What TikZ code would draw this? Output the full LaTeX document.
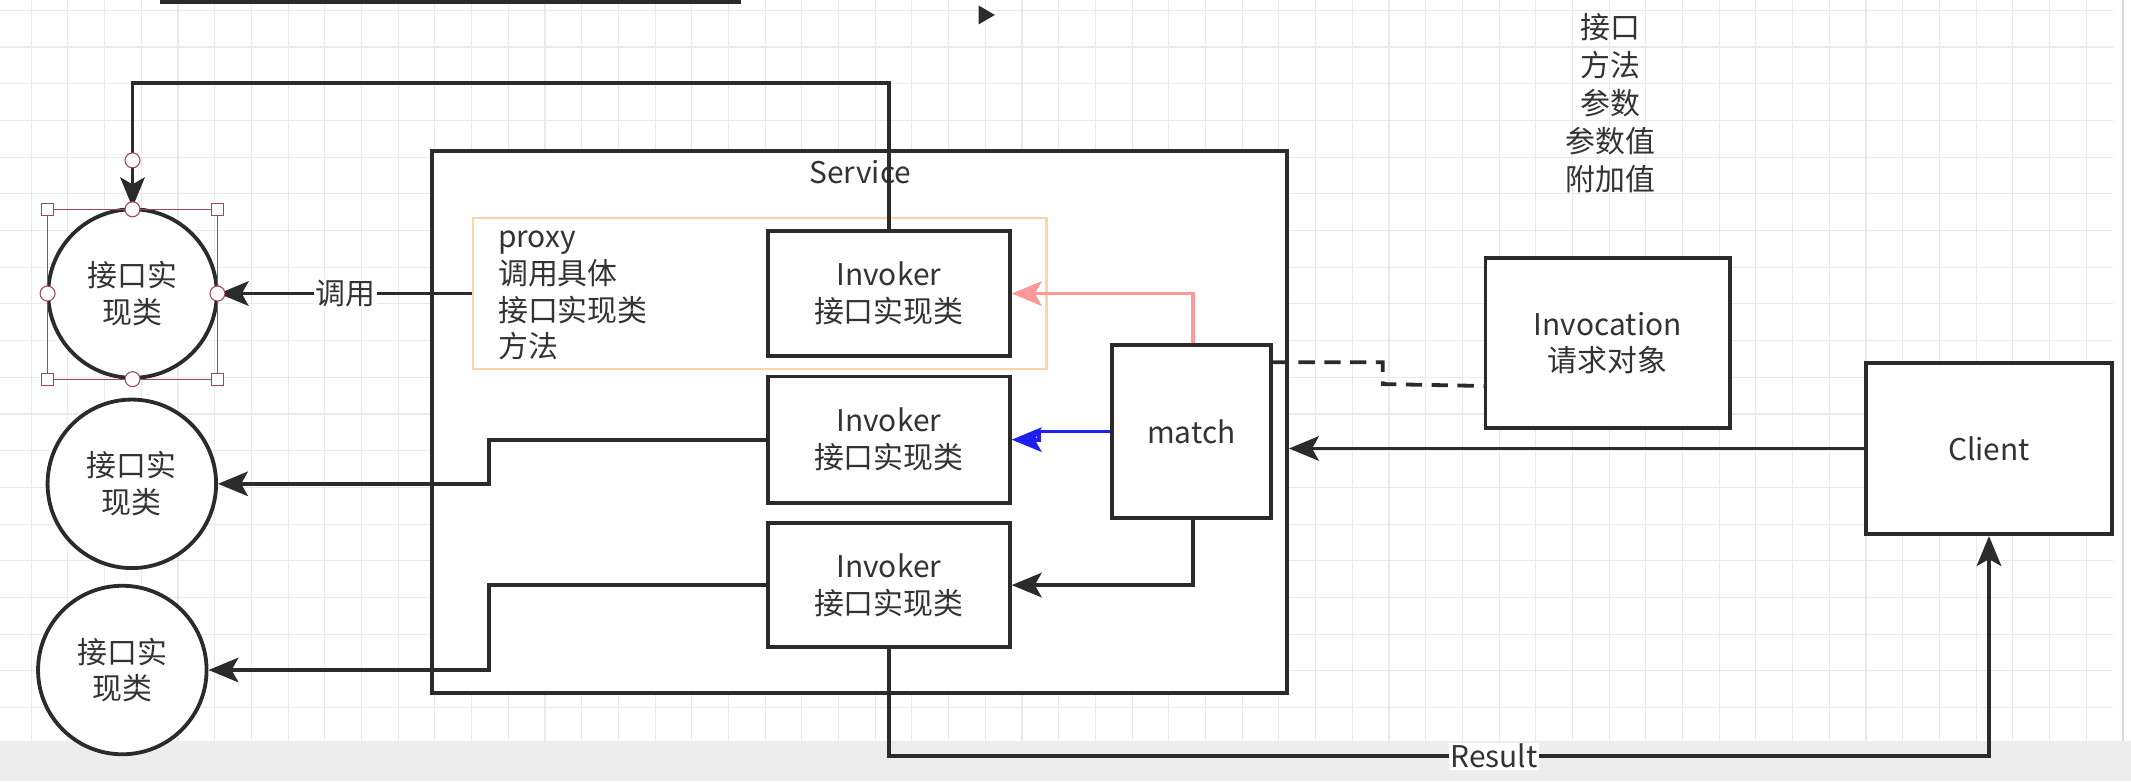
\documentclass[tikz,border=0pt]{standalone}
\usepackage{fontspec}
\setmainfont{Noto Sans CJK SC}
\usetikzlibrary{arrows.meta}
\definecolor{txt}{HTML}{333333}
\definecolor{edge}{HTML}{2B2B2B}
\definecolor{pinkline}{HTML}{FF9999}
\definecolor{blueline}{HTML}{2020EE}
\definecolor{orangebox}{HTML}{FFD2A8}
\definecolor{handle}{HTML}{A04858}
\definecolor{gridc}{HTML}{EAEAEA}
\begin{document}
\begin{tikzpicture}[x=1pt,y=-1pt,
  every node/.style={text=txt,font=\fontsize{22}{27}\selectfont},
  box/.style={draw=edge,line width=2.8pt,fill=white,inner sep=0pt,align=center},
  impl/.style={draw=edge,line width=2.8pt,fill=white,circle,minimum size=124pt,inner sep=0pt,align=center},
  tip/.style={-{Stealth[length=22pt,width=18pt,inset=5pt]}},
  conn/.style={draw=edge,line width=2.8pt,tip},
  lbl/.style={fill=white,inner sep=1pt}]
\useasboundingbox (0,0) rectangle (1568,575);
% background / grid
\fill[white] (0,0) rectangle (1568,575);
\foreach \gx in {23,50,...,1555} \draw[gridc,line width=0.8pt] (\gx,0) -- (\gx,545);
\foreach \gy in {7.6,34.6,...,545} \draw[gridc,line width=0.8pt] (0,\gy) -- (1555,\gy);
\fill[black!7] (0,545) rectangle (1568,575);
\draw[black!15,line width=1pt] (1562,0) -- (1562,545);
% screen artifacts
\fill[edge] (118,0) rectangle (545,3);
\fill[edge] (720,4) -- (732,11) -- (720,18) -- cycle;

% service container
\node[box,minimum width=629pt,minimum height=399pt] (service) at (632.5,310.5) {};
\node (servicelbl) at (633,127) {Service};
\node[draw=orangebox,line width=1.5pt,fill=white,minimum width=422pt,minimum height=111pt,inner sep=0pt] (proxy) at (559,216) {};
\node[anchor=west,align=left] (proxytxt) at (363,217.5) {proxy\\调用具体\\接口实现类\\方法};

% invokers
\node[box,minimum width=178pt,minimum height=92pt] (inv1) at (654,216) {Invoker\\接口实现类};
\node[box,minimum width=178pt,minimum height=93pt] (inv2) at (654,323.5) {Invoker\\接口实现类};
\node[box,minimum width=178pt,minimum height=91pt] (inv3) at (654,430.5) {Invoker\\接口实现类};
\node[box,minimum width=117pt,minimum height=127pt] (match) at (876.5,317.5) {match};
\node[box,minimum width=180pt,minimum height=125pt] (invoc) at (1183,252.5) {Invocation\\请求对象};
\node[box,minimum width=181pt,minimum height=126pt] (client) at (1463.5,330) {Client};
\node[align=center,font=\fontsize{22}{28}\selectfont] (fields) at (1185,76) {接口\\方法\\参数\\参数值\\附加值};

% implementation circles
\node[impl] (c1) at (97.5,216) {接口实\\现类};
\node[impl] (c2) at (97,356) {接口实\\现类};
\node[impl] (c3) at (90,493) {接口实\\现类};

% connectors
\draw[conn] (inv1.north) -- (inv1.north |- 0,61) -| (c1.north);
\draw[conn] (proxy.west) -- node[lbl] {调用} (c1.east);
\draw[conn] (inv2.west) -- ++(-204,0) |- (c2.east);
\draw[conn] (inv3.west) -- ++(-204,0) |- (c3.east);
\draw[conn,draw=pinkline,-{Stealth[length=22pt,width=18pt,inset=5pt,fill=pinkline]}] ([xshift=1.5pt]match.north) |- (inv1.east);
\draw[conn,draw=blueline,-{Stealth[length=22pt,width=18pt,inset=5pt,fill=blueline]}] (match.west) -- ++(-52,0) |- (inv2.east);
\draw[conn] ([xshift=1.5pt]match.south) |- (inv3.east);
\draw[draw=edge,line width=2.8pt,dash pattern=on 12pt off 7pt] ([yshift=-14pt]match.north east) -- ++(81,0) -- ++(0,16) -- ([yshift=-31.5pt]invoc.west);
\draw[conn] (client.west) -- (client.west -| service.east);
\draw[conn] (inv3.south) -- ++(0,79) -| node[lbl,pos=0.275] {Result} (client.south);

% selection handles around first circle
\draw[handle,line width=0.8pt] (35,154) rectangle (160,279);
\foreach \hx/\hy in {35/154,160/154,35/279,160/279}
  \draw[handle,fill=white,line width=0.8pt] (\hx-4.5,\hy-4.5) rectangle (\hx+4.5,\hy+4.5);
\foreach \hx/\hy in {97.5/154,160/216,97.5/279,35/216,97.5/118}
  \draw[handle,fill=white,line width=0.8pt] (\hx,\hy) circle (5.5);
\end{tikzpicture}
\end{document}
